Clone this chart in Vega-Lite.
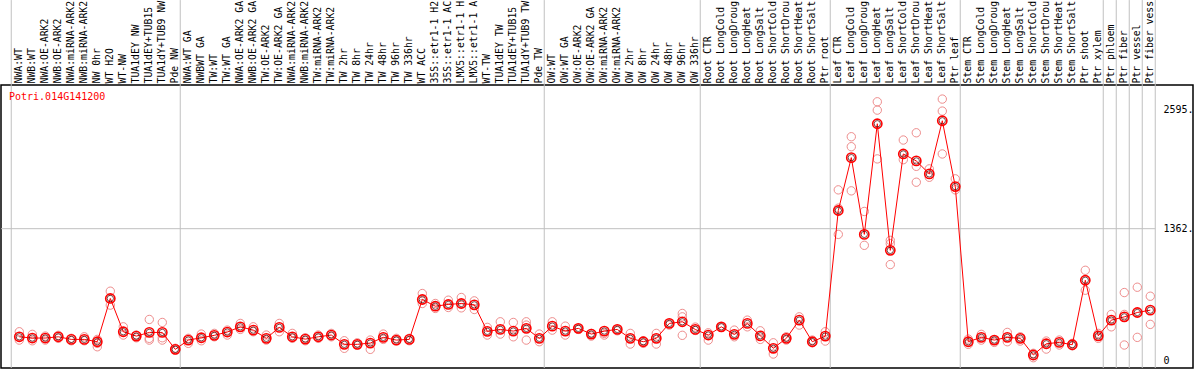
{
  "$schema": "https://vega.github.io/schema/vega-lite/v6.json",
  "width": 1192,
  "height": 283,
  "autosize": {"type": "none"},
  "padding": {"left": 1, "top": 85, "right": 1, "bottom": 1},
  "background": "white",
  "config": {"view": {"stroke": "black", "strokeWidth": 1.5}, "font": "DejaVu Sans Mono"},
  "datasets": {
    "means": [
      {"sample": "NWA:WT", "expr": 245}, {"sample": "NWB:WT", "expr": 232}, {"sample": "NWA:OE-ARK2", "expr": 232}, {"sample": "NWB:OE-ARK2", "expr": 245},
      {"sample": "NWA:miRNA-ARK2", "expr": 218}, {"sample": "NWB:miRNA-ARK2", "expr": 218}, {"sample": "NW 0hr", "expr": 194}, {"sample": "WT H2O", "expr": 641},
      {"sample": "WT-NW", "expr": 297}, {"sample": "TUA1dEY NW", "expr": 252}, {"sample": "TUA1dEY+TUB15 NW", "expr": 290}, {"sample": "TUA1dY+TUB9 NW", "expr": 290},
      {"sample": "Pde NW", "expr": 115}, {"sample": "NWA:WT GA", "expr": 211}, {"sample": "NWBWT GA", "expr": 235}, {"sample": "TW:WT", "expr": 260},
      {"sample": "TW:WT GA", "expr": 294}, {"sample": "NWA:OE-ARK2 GA", "expr": 348}, {"sample": "NWB:OE-ARK2 GA", "expr": 314}, {"sample": "TW:OE-ARK2", "expr": 229},
      {"sample": "TW:OE-ARK2 GA", "expr": 342}, {"sample": "NWA:miRNA-ARK2 GA", "expr": 245}, {"sample": "NWB:miRNA-ARK2 GA", "expr": 221}, {"sample": "TW:miRNA-ARK2", "expr": 245},
      {"sample": "TW:miRNA-ARK2 GA", "expr": 263}, {"sample": "TW 2hr", "expr": 167}, {"sample": "TW 8hr", "expr": 167}, {"sample": "TW 24hr", "expr": 180},
      {"sample": "TW 48hr", "expr": 239}, {"sample": "TW 96hr", "expr": 211}, {"sample": "TW 336hr", "expr": 218}, {"sample": "WT ACC", "expr": 630},
      {"sample": "35S::etr1-1 H2O", "expr": 561}, {"sample": "35S::etr1-1 ACC", "expr": 579}, {"sample": "LMX5::etr1-1 H2O", "expr": 589}, {"sample": "LMX5::etr1-1 ACC", "expr": 575},
      {"sample": "WT-TW", "expr": 301}, {"sample": "TUA1dEY TW", "expr": 321}, {"sample": "TUA1dEY+TUB15 TW", "expr": 304}, {"sample": "TUA1dY+TUB9 TW", "expr": 332},
      {"sample": "Pde TW", "expr": 229}, {"sample": "OW:WT", "expr": 355}, {"sample": "OW:WT GA", "expr": 304}, {"sample": "OW:OE-ARK2", "expr": 332},
      {"sample": "OW:OE-ARK2 GA", "expr": 273}, {"sample": "OW:miRNA-ARK2", "expr": 304}, {"sample": "OW:miRNA-ARK2 GA", "expr": 321}, {"sample": "OW 2hr", "expr": 229},
      {"sample": "OW 8hr", "expr": 194}, {"sample": "OW 24hr", "expr": 229}, {"sample": "OW 48hr", "expr": 383}, {"sample": "OW 96hr", "expr": 400},
      {"sample": "OW 336hr", "expr": 321}, {"sample": "Root CTR", "expr": 263}, {"sample": "Root LongCold", "expr": 348}, {"sample": "Root LongDrought", "expr": 270},
      {"sample": "Root LongHeat", "expr": 383}, {"sample": "Root LongSalt", "expr": 255}, {"sample": "Root ShortCold", "expr": 126}, {"sample": "Root ShortDrought", "expr": 229},
      {"sample": "Root ShortHeat", "expr": 417}, {"sample": "Root ShortSalt", "expr": 194}, {"sample": "Ptr root", "expr": 252}, {"sample": "Leaf CTR", "expr": 1550},
      {"sample": "Leaf LongCold", "expr": 2096}, {"sample": "Leaf LongDrought", "expr": 1303}, {"sample": "Leaf LongHeat", "expr": 2446}, {"sample": "Leaf LongSalt", "expr": 1138},
      {"sample": "Leaf ShortCold", "expr": 2134}, {"sample": "Leaf ShortDrought", "expr": 2062}, {"sample": "Leaf ShortHeat", "expr": 1928}, {"sample": "Leaf ShortSalt", "expr": 2477},
      {"sample": "Ptr leaf", "expr": 1797}, {"sample": "Stem CTR", "expr": 194}, {"sample": "Stem LongCold", "expr": 239}, {"sample": "Stem LongDrought", "expr": 211},
      {"sample": "Stem LongHeat", "expr": 239}, {"sample": "Stem LongSalt", "expr": 229}, {"sample": "Stem ShortCold", "expr": 57}, {"sample": "Stem ShortDrought", "expr": 173},
      {"sample": "Stem ShortHeat", "expr": 187}, {"sample": "Stem ShortSalt", "expr": 163}, {"sample": "Ptr shoot", "expr": 829}, {"sample": "Ptr xylem", "expr": 255},
      {"sample": "Ptr phloem", "expr": 417}, {"sample": "Ptr fiber", "expr": 451}, {"sample": "Ptr vessel", "expr": 496}, {"sample": "Ptr fiber vessel", "expr": 520}
    ],
    "reps": [
      {"sample": "NWA:WT", "expr": 297}, {"sample": "NWA:WT", "expr": 211},
      {"sample": "NWB:WT", "expr": 270}, {"sample": "NWB:WT", "expr": 204},
      {"sample": "NWA:OE-ARK2", "expr": 252}, {"sample": "NWA:OE-ARK2", "expr": 211},
      {"sample": "NWB:OE-ARK2", "expr": 260}, {"sample": "NWB:OE-ARK2", "expr": 229},
      {"sample": "NWA:miRNA-ARK2", "expr": 229}, {"sample": "NWA:miRNA-ARK2", "expr": 204},
      {"sample": "NWB:miRNA-ARK2", "expr": 245}, {"sample": "NWB:miRNA-ARK2", "expr": 204},
      {"sample": "NW 0hr", "expr": 218}, {"sample": "NW 0hr", "expr": 177}, {"sample": "NW 0hr", "expr": 142},
      {"sample": "WT H2O", "expr": 716}, {"sample": "WT H2O", "expr": 572},
      {"sample": "WT-NW", "expr": 348}, {"sample": "WT-NW", "expr": 263},
      {"sample": "TUA1dEY NW", "expr": 263}, {"sample": "TUA1dEY NW", "expr": 235},
      {"sample": "TUA1dEY+TUB15 NW", "expr": 424}, {"sample": "TUA1dEY+TUB15 NW", "expr": 229}, {"sample": "TUA1dEY+TUB15 NW", "expr": 211},
      {"sample": "TUA1dY+TUB9 NW", "expr": 393}, {"sample": "TUA1dY+TUB9 NW", "expr": 235}, {"sample": "TUA1dY+TUB9 NW", "expr": 211},
      {"sample": "Pde NW", "expr": 126}, {"sample": "Pde NW", "expr": 108},
      {"sample": "NWA:WT GA", "expr": 229}, {"sample": "NWA:WT GA", "expr": 177},
      {"sample": "NWBWT GA", "expr": 273}, {"sample": "NWBWT GA", "expr": 204},
      {"sample": "TW:WT", "expr": 280}, {"sample": "TW:WT", "expr": 245},
      {"sample": "TW:WT GA", "expr": 314}, {"sample": "TW:WT GA", "expr": 263},
      {"sample": "NWA:OE-ARK2 GA", "expr": 383}, {"sample": "NWA:OE-ARK2 GA", "expr": 321},
      {"sample": "NWB:OE-ARK2 GA", "expr": 348}, {"sample": "NWB:OE-ARK2 GA", "expr": 297},
      {"sample": "TW:OE-ARK2", "expr": 263}, {"sample": "TW:OE-ARK2", "expr": 211},
      {"sample": "TW:OE-ARK2 GA", "expr": 383}, {"sample": "TW:OE-ARK2 GA", "expr": 297},
      {"sample": "NWA:miRNA-ARK2 GA", "expr": 280}, {"sample": "NWA:miRNA-ARK2 GA", "expr": 229},
      {"sample": "NWB:miRNA-ARK2 GA", "expr": 235}, {"sample": "NWB:miRNA-ARK2 GA", "expr": 204},
      {"sample": "TW:miRNA-ARK2", "expr": 263}, {"sample": "TW:miRNA-ARK2", "expr": 229},
      {"sample": "TW:miRNA-ARK2 GA", "expr": 280}, {"sample": "TW:miRNA-ARK2 GA", "expr": 245},
      {"sample": "TW 2hr", "expr": 204}, {"sample": "TW 2hr", "expr": 126},
      {"sample": "TW 8hr", "expr": 183}, {"sample": "TW 8hr", "expr": 160},
      {"sample": "TW 24hr", "expr": 211}, {"sample": "TW 24hr", "expr": 115},
      {"sample": "TW 48hr", "expr": 273}, {"sample": "TW 48hr", "expr": 218},
      {"sample": "TW 96hr", "expr": 229}, {"sample": "TW 96hr", "expr": 204},
      {"sample": "TW 336hr", "expr": 229}, {"sample": "TW 336hr", "expr": 204},
      {"sample": "WT ACC", "expr": 692}, {"sample": "WT ACC", "expr": 589},
      {"sample": "35S::etr1-1 H2O", "expr": 589}, {"sample": "35S::etr1-1 H2O", "expr": 538},
      {"sample": "35S::etr1-1 ACC", "expr": 623}, {"sample": "35S::etr1-1 ACC", "expr": 548},
      {"sample": "LMX5::etr1-1 H2O", "expr": 651}, {"sample": "LMX5::etr1-1 H2O", "expr": 544},
      {"sample": "LMX5::etr1-1 ACC", "expr": 616}, {"sample": "LMX5::etr1-1 ACC", "expr": 527},
      {"sample": "WT-TW", "expr": 342}, {"sample": "WT-TW", "expr": 263},
      {"sample": "TUA1dEY TW", "expr": 400}, {"sample": "TUA1dEY TW", "expr": 273},
      {"sample": "TUA1dEY+TUB15 TW", "expr": 393}, {"sample": "TUA1dEY+TUB15 TW", "expr": 245},
      {"sample": "TUA1dY+TUB9 TW", "expr": 400}, {"sample": "TUA1dY+TUB9 TW", "expr": 366}, {"sample": "TUA1dY+TUB9 TW", "expr": 211},
      {"sample": "Pde TW", "expr": 273}, {"sample": "Pde TW", "expr": 194},
      {"sample": "OW:WT", "expr": 400}, {"sample": "OW:WT", "expr": 314},
      {"sample": "OW:WT GA", "expr": 355}, {"sample": "OW:WT GA", "expr": 263},
      {"sample": "OW:OE-ARK2", "expr": 332}, {"sample": "OW:OE-ARK2", "expr": 321},
      {"sample": "OW:OE-ARK2 GA", "expr": 280}, {"sample": "OW:OE-ARK2 GA", "expr": 252},
      {"sample": "OW:miRNA-ARK2", "expr": 280}, {"sample": "OW:miRNA-ARK2", "expr": 263},
      {"sample": "OW:miRNA-ARK2 GA", "expr": 321}, {"sample": "OW:miRNA-ARK2 GA", "expr": 307},
      {"sample": "OW 2hr", "expr": 280}, {"sample": "OW 2hr", "expr": 170},
      {"sample": "OW 8hr", "expr": 204}, {"sample": "OW 8hr", "expr": 177},
      {"sample": "OW 24hr", "expr": 280}, {"sample": "OW 24hr", "expr": 170},
      {"sample": "OW 48hr", "expr": 383}, {"sample": "OW 48hr", "expr": 366},
      {"sample": "OW 96hr", "expr": 486}, {"sample": "OW 96hr", "expr": 451}, {"sample": "OW 96hr", "expr": 260},
      {"sample": "OW 336hr", "expr": 345}, {"sample": "OW 336hr", "expr": 310},
      {"sample": "Root CTR", "expr": 286}, {"sample": "Root CTR", "expr": 211},
      {"sample": "Root LongCold", "expr": 348}, {"sample": "Root LongCold", "expr": 342},
      {"sample": "Root LongDrought", "expr": 314}, {"sample": "Root LongDrought", "expr": 245},
      {"sample": "Root LongHeat", "expr": 417}, {"sample": "Root LongHeat", "expr": 348},
      {"sample": "Root LongSalt", "expr": 307}, {"sample": "Root LongSalt", "expr": 218},
      {"sample": "Root ShortCold", "expr": 183}, {"sample": "Root ShortCold", "expr": 67},
      {"sample": "Root ShortDrought", "expr": 245}, {"sample": "Root ShortDrought", "expr": 211},
      {"sample": "Root ShortHeat", "expr": 451}, {"sample": "Root ShortHeat", "expr": 366},
      {"sample": "Root ShortSalt", "expr": 211}, {"sample": "Root ShortSalt", "expr": 183},
      {"sample": "Ptr root", "expr": 297}, {"sample": "Ptr root", "expr": 201},
      {"sample": "Leaf CTR", "expr": 1763}, {"sample": "Leaf CTR", "expr": 1574}, {"sample": "Leaf CTR", "expr": 1303},
      {"sample": "Leaf LongCold", "expr": 2312}, {"sample": "Leaf LongCold", "expr": 2209}, {"sample": "Leaf LongCold", "expr": 1753},
      {"sample": "Leaf LongDrought", "expr": 1540}, {"sample": "Leaf LongDrought", "expr": 1190},
      {"sample": "Leaf LongHeat", "expr": 2673}, {"sample": "Leaf LongHeat", "expr": 2587}, {"sample": "Leaf LongHeat", "expr": 2083},
      {"sample": "Leaf LongSalt", "expr": 1241}, {"sample": "Leaf LongSalt", "expr": 1207}, {"sample": "Leaf LongSalt", "expr": 991},
      {"sample": "Leaf ShortCold", "expr": 2278}, {"sample": "Leaf ShortCold", "expr": 2075},
      {"sample": "Leaf ShortDrought", "expr": 2353}, {"sample": "Leaf ShortDrought", "expr": 2006}, {"sample": "Leaf ShortDrought", "expr": 1842},
      {"sample": "Leaf ShortHeat", "expr": 1980}, {"sample": "Leaf ShortHeat", "expr": 1893},
      {"sample": "Leaf ShortSalt", "expr": 2701}, {"sample": "Leaf ShortSalt", "expr": 2577}, {"sample": "Leaf ShortSalt", "expr": 2134},
      {"sample": "Ptr leaf", "expr": 1877}, {"sample": "Ptr leaf", "expr": 1763},
      {"sample": "Stem CTR", "expr": 221}, {"sample": "Stem CTR", "expr": 167},
      {"sample": "Stem LongCold", "expr": 270}, {"sample": "Stem LongCold", "expr": 211},
      {"sample": "Stem LongDrought", "expr": 211}, {"sample": "Stem LongDrought", "expr": 187},
      {"sample": "Stem LongHeat", "expr": 290}, {"sample": "Stem LongHeat", "expr": 194},
      {"sample": "Stem LongSalt", "expr": 245}, {"sample": "Stem LongSalt", "expr": 201},
      {"sample": "Stem ShortCold", "expr": 74}, {"sample": "Stem ShortCold", "expr": 29},
      {"sample": "Stem ShortDrought", "expr": 201}, {"sample": "Stem ShortDrought", "expr": 118},
      {"sample": "Stem ShortHeat", "expr": 211}, {"sample": "Stem ShortHeat", "expr": 160},
      {"sample": "Stem ShortSalt", "expr": 177}, {"sample": "Stem ShortSalt", "expr": 152},
      {"sample": "Ptr shoot", "expr": 932}, {"sample": "Ptr shoot", "expr": 726},
      {"sample": "Ptr xylem", "expr": 280}, {"sample": "Ptr xylem", "expr": 229},
      {"sample": "Ptr phloem", "expr": 476}, {"sample": "Ptr phloem", "expr": 348},
      {"sample": "Ptr fiber", "expr": 702}, {"sample": "Ptr fiber", "expr": 476}, {"sample": "Ptr fiber", "expr": 160},
      {"sample": "Ptr vessel", "expr": 757}, {"sample": "Ptr vessel", "expr": 239},
      {"sample": "Ptr fiber vessel", "expr": 664}, {"sample": "Ptr fiber vessel", "expr": 373}
    ],
    "groups": [
      {"sample": "NWA:WT", "top": 3724, "bottom": -77.5}, {"sample": "NWA:WT GA", "top": 3724, "bottom": -77.5}, {"sample": "OW:WT", "top": 3724, "bottom": -77.5},
      {"sample": "Root CTR", "top": 3724, "bottom": -77.5}, {"sample": "Leaf CTR", "top": 3724, "bottom": -77.5}, {"sample": "Stem CTR", "top": 3724, "bottom": -77.5},
      {"sample": "Ptr phloem", "top": 3724, "bottom": -77.5}, {"sample": "Ptr fiber", "top": 3724, "bottom": -77.5}, {"sample": "Ptr vessel", "top": 3724, "bottom": -77.5},
      {"sample": "Ptr fiber vessel", "top": 3724, "bottom": -77.5}
    ],
    "groupEnd": [{"sample": "Ptr fiber vessel", "top": 3724, "bottom": -77.5}],
    "gene": [{"name": "Potri.014G141200", "sample": "NWA:WT", "expr": 2722}]
  },
  "layer": [
    {
      "data": {"name": "groups"},
      "mark": {"type": "rule", "color": "#c0c0c0", "strokeWidth": 1},
      "encoding": {
        "x": {
          "field": "sample",
          "type": "nominal",
          "bandPosition": -0.12,
          "scale": {
            "type": "band",
            "paddingInner": 0,
            "paddingOuter": 0,
            "range": [11.8, 1155.8],
            "domain": ["NWA:WT", "NWB:WT", "NWA:OE-ARK2", "NWB:OE-ARK2", "NWA:miRNA-ARK2", "NWB:miRNA-ARK2", "NW 0hr", "WT H2O", "WT-NW", "TUA1dEY NW", "TUA1dEY+TUB15 NW", "TUA1dY+TUB9 NW", "Pde NW", "NWA:WT GA", "NWBWT GA", "TW:WT", "TW:WT GA", "NWA:OE-ARK2 GA", "NWB:OE-ARK2 GA", "TW:OE-ARK2", "TW:OE-ARK2 GA", "NWA:miRNA-ARK2 GA", "NWB:miRNA-ARK2 GA", "TW:miRNA-ARK2", "TW:miRNA-ARK2 GA", "TW 2hr", "TW 8hr", "TW 24hr", "TW 48hr", "TW 96hr", "TW 336hr", "WT ACC", "35S::etr1-1 H2O", "35S::etr1-1 ACC", "LMX5::etr1-1 H2O", "LMX5::etr1-1 ACC", "WT-TW", "TUA1dEY TW", "TUA1dEY+TUB15 TW", "TUA1dY+TUB9 TW", "Pde TW", "OW:WT", "OW:WT GA", "OW:OE-ARK2", "OW:OE-ARK2 GA", "OW:miRNA-ARK2", "OW:miRNA-ARK2 GA", "OW 2hr", "OW 8hr", "OW 24hr", "OW 48hr", "OW 96hr", "OW 336hr", "Root CTR", "Root LongCold", "Root LongDrought", "Root LongHeat", "Root LongSalt", "Root ShortCold", "Root ShortDrought", "Root ShortHeat", "Root ShortSalt", "Ptr root", "Leaf CTR", "Leaf LongCold", "Leaf LongDrought", "Leaf LongHeat", "Leaf LongSalt", "Leaf ShortCold", "Leaf ShortDrought", "Leaf ShortHeat", "Leaf ShortSalt", "Ptr leaf", "Stem CTR", "Stem LongCold", "Stem LongDrought", "Stem LongHeat", "Stem LongSalt", "Stem ShortCold", "Stem ShortDrought", "Stem ShortHeat", "Stem ShortSalt", "Ptr shoot", "Ptr xylem", "Ptr phloem", "Ptr fiber", "Ptr vessel", "Ptr fiber vessel"]
          },
          "axis": {
            "orient": "top",
            "title": null,
            "labelAngle": -90,
            "labelAlign": "left",
            "labelBaseline": "middle",
            "labelPadding": 2,
            "ticks": false,
            "domain": false,
            "grid": false,
            "labelOverlap": false,
            "labelLimit": 300,
            "labelBound": false,
            "labelExpr": "slice(datum.label, 0, 14)",
            "labelFont": "DejaVu Sans Mono",
            "labelFontSize": 9.8,
            "labelColor": "black"
          }
        },
        "y": {
          "field": "top",
          "type": "quantitative",
          "scale": {"domain": [-77.5, 2846.5], "nice": false, "zero": false},
          "axis": {
            "orient": "right",
            "offset": -32,
            "title": null,
            "values": [0, 1362, 2595],
            "labelExpr": "datum.value == 0 ? '0' : datum.value + '.'",
            "grid": false,
            "ticks": false,
            "domain": false,
            "labelPadding": 2,
            "labelAlign": "left",
            "labelBaseline": "middle",
            "labelFlush": false,
            "labelFont": "DejaVu Sans Mono",
            "labelFontSize": 10,
            "labelColor": "black"
          }
        },
        "y2": {"field": "bottom"}
      }
    },
    {
      "data": {"name": "groupEnd"},
      "mark": {"type": "rule", "color": "#c0c0c0", "strokeWidth": 1},
      "encoding": {
        "x": {"field": "sample", "type": "nominal", "bandPosition": 0.88},
        "y": {"field": "top", "type": "quantitative"},
        "y2": {"field": "bottom"}
      }
    },
    {
      "data": {"name": "gene"},
      "mark": {"type": "rule", "color": "#c0c0c0", "strokeWidth": 1},
      "encoding": {
        "x": {"field": "sample", "type": "nominal", "bandPosition": -0.9},
        "x2": {"datum": "Ptr fiber vessel", "bandPosition": 0.88},
        "y": {"datum": 1362, "type": "quantitative"}
      }
    },
    {
      "data": {"name": "reps"},
      "mark": {"type": "point", "shape": "circle", "filled": false, "stroke": "#ee8c8c", "strokeWidth": 1, "size": 70, "opacity": 1},
      "encoding": {
        "x": {"field": "sample", "type": "nominal"},
        "y": {"field": "expr", "type": "quantitative"}
      }
    },
    {
      "data": {"name": "means"},
      "mark": {"type": "line", "color": "#ff0000", "strokeWidth": 1},
      "encoding": {
        "x": {"field": "sample", "type": "nominal"},
        "y": {"field": "expr", "type": "quantitative"}
      }
    },
    {
      "data": {"name": "means"},
      "mark": {"type": "point", "shape": "circle", "filled": false, "stroke": "#ff0000", "strokeWidth": 1.6, "size": 85, "opacity": 1},
      "encoding": {
        "x": {"field": "sample", "type": "nominal"},
        "y": {"field": "expr", "type": "quantitative"}
      }
    },
    {
      "data": {"name": "means"},
      "mark": {"type": "point", "shape": "circle", "filled": false, "stroke": "#400000", "strokeWidth": 0.7, "size": 40, "opacity": 1},
      "encoding": {
        "x": {"field": "sample", "type": "nominal"},
        "y": {"field": "expr", "type": "quantitative"}
      }
    },
    {
      "data": {"name": "gene"},
      "mark": {"type": "text", "color": "#ff0000", "font": "DejaVu Sans Mono", "fontSize": 10, "align": "left", "baseline": "middle", "dx": -10.3},
      "encoding": {
        "x": {"field": "sample", "type": "nominal"},
        "y": {"field": "expr", "type": "quantitative"},
        "text": {"field": "name"}
      }
    }
  ]
}
